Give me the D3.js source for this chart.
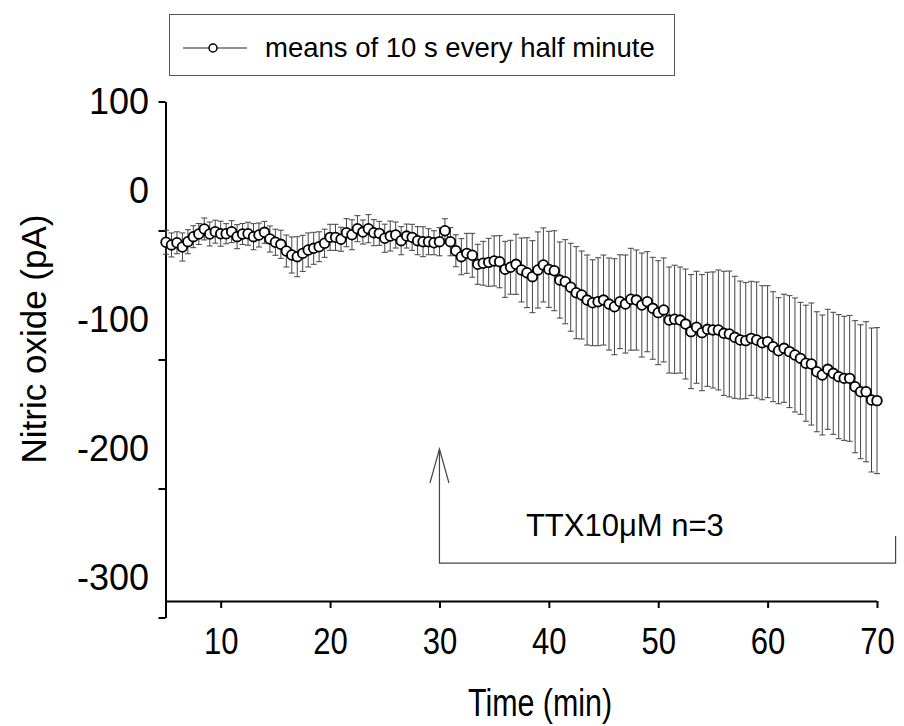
<!DOCTYPE html>
<html><head><meta charset="utf-8">
<script src="https://cdn.jsdelivr.net/npm/d3@7"></script>
<style>body{margin:0;background:#fff} svg{display:block}</style>
</head><body>
<svg id="c" width="904" height="726"></svg>
<script>
// ---- data ----
const startMin = 5, stepMin = 0.5;
const means = [
 -9.1,-11.2,-9.5,-12.8,-8.7,-4.8,-2.7,1.2,-2.7,-0.9,
 -2.5,-2.5,-0.9,-4.8,-2.7,-2.5,-4.8,-3.5,-1.4,-6.6,
 -9.1,-10.7,-15.9,-19.0,-20.3,-17.7,-15.1,-13.8,-12.6,-9.9,
 -5.3,-5.3,-6.8,-1.7,-3.3,1.4,-1.2,1.4,-1.7,-2.2,
 -6.0,-4.3,-3.5,-7.9,-4.3,-5.3,-7.9,-8.7,-8.7,-9.5,
 -8.7,-0.2,-8.7,-15.7,-20.3,-17.7,-19.2,-26.2,-25.4,-24.7,
 -23.6,-24.2,-30.1,-28.5,-26.2,-30.6,-32.7,-35.8,-30.6,-26.7,
 -30.1,-31.2,-38.4,-39.7,-44.0,-48.2,-50.0,-53.9,-56.0,-55.2,
 -53.9,-57.0,-59.1,-55.2,-57.0,-53.3,-53.9,-57.8,-55.2,-60.3,
 -63.7,-61.6,-69.4,-68.8,-69.4,-72.5,-78.4,-75.0,-79.2,-76.6,
 -77.1,-77.1,-79.7,-80.2,-82.8,-84.9,-85.4,-83.6,-84.9,-87.0,
 -86.2,-90.1,-93.2,-91.3,-93.9,-96.5,-99.1,-102.9,-103.5,-109.5,
 -112.0,-107.6,-110.7,-113.3,-114.6,-114.6,-121.1,-125.0,-125.0,-131.4,
 -131.9
];
const sems = [
 9.3,9.3,8.5,10.9,9.3,
 8.5,8.1,8.5,9.3,8.9,9.7,7.8,8.5,9.3,8.1,8.9,10.1,9.3,8.5,10.1,
 10.1,10.9,12.4,14.0,15.5,14.0,13.2,12.4,11.6,10.9,10.1,
 10.1,9.3,10.9,11.6,10.1,9.3,10.9,10.1,9.3,10.9,11.6,10.1,10.9,9.3,10.1,10.9,11.6,10.1,9.3,10.9,
 9.3,10.9,12.4,14.0,15.5,17.0,15.5,17.0,18.6,19.4,
 20.2,21.7,20.9,23.3,24.8,27.1,27.9,29.5,28.7,29.5,
 31.0,29.5,32.6,34.1,35.7,34.1,34.9,33.3,34.1,34.9,
 35.7,37.2,36.4,38.0,39.5,38.8,40.3,38.8,39.5,40.3,
 40.3,41.1,41.9,41.1,42.6,44.2,43.4,45.0,44.2,45.0,
 46.5,48.1,48.8,47.3,45.7,45.0,44.2,45.0,44.2,43.4,
 42.6,41.1,41.9,43.4,44.2,43.4,45.0,47.3,46.5,46.5,
 46.5,47.3,48.1,48.1,48.8,51.2,51.9,54.3,55.8,56.6
];
const xTicks = [10,20,30,40,50,60,70];
const yTicks = [100,0,-100,-200,-300];
const legendLabel = "means of 10 s every half minute";
const xTitle = "Time (min)";
const yTitle = "Nitric oxide (pA)";
const annoText = "TTX10μM n=3";
const annoStart = 30, annoEnd = 71.7, annoTextAt = 37.9;
const annoTip = -169.4, annoBase = -257.8, annoRightTop = -236.8;

// ---- build ----
const data = means.map((m,i)=>({t:startMin+i*stepMin, m, e:sems[i]}));
const svg = d3.select("#c");
const x = d3.scaleLinear().domain([5,70]).range([166,877]);
const y = d3.scaleLinear().domain([100,-300]).range([101.5,617.5]);
const axisY0 = 601;
const F = "'Liberation Sans', Arial, sans-serif";

// y axis
const gy = svg.append("g").attr("transform","translate(165.5,0)")
  .call(d3.axisLeft(y).tickValues(yTicks).tickSize(7).tickSizeOuter(0).tickFormat(""));
gy.selectAll("path,line").attr("stroke","#000").attr("stroke-width",2);
svg.append("g").selectAll("text").data(yTicks).join("text")
  .attr("x",149).attr("y",d=>y(d)+(d===100?0:-40))
  .attr("dy","0.36em").attr("text-anchor","end")
  .attr("font-family",F).attr("font-size",36).text(d=>d);

// x axis
const gx = svg.append("g").attr("transform",`translate(0,${axisY0})`)
  .call(d3.axisBottom(x).tickValues(xTicks).tickSize(7).tickSizeOuter(0));
gx.select(".domain").attr("d",`M165,0.5H${x(70)}`);
gx.selectAll("path,line").attr("stroke","#000").attr("stroke-width",2);
gx.selectAll("text").attr("y",40).attr("dy","0.36em")
  .attr("transform","scale(0.84,1)")
  .attr("font-family",F).attr("font-size",37).attr("fill","#000");

// titles
svg.append("text").attr("transform","translate(46,339) rotate(-90)")
  .attr("text-anchor","middle").attr("font-family",F).attr("font-size",35).text(yTitle);
svg.append("text").attr("transform","translate(540,716) scale(0.8,1)").attr("text-anchor","middle")
  .attr("font-family",F).attr("font-size",38).text(xTitle);

// error bars
const eb = svg.append("g").attr("stroke","#444").attr("stroke-width",1);
eb.selectAll("line.v").data(data).join("line").attr("class","v")
  .attr("x1",d=>x(d.t)).attr("x2",d=>x(d.t)).attr("y1",d=>y(d.m+d.e)).attr("y2",d=>y(d.m-d.e));
eb.selectAll("line.t").data(data).join("line").attr("class","t")
  .attr("x1",d=>x(d.t)-3).attr("x2",d=>x(d.t)+3).attr("y1",d=>y(d.m+d.e)).attr("y2",d=>y(d.m+d.e));
eb.selectAll("line.b").data(data).join("line").attr("class","b")
  .attr("x1",d=>x(d.t)-3).attr("x2",d=>x(d.t)+3).attr("y1",d=>y(d.m-d.e)).attr("y2",d=>y(d.m-d.e));

// line + points
svg.append("path").datum(data).attr("fill","none").attr("stroke","#000").attr("stroke-width",1)
  .attr("d",d3.line().x(d=>x(d.t)).y(d=>y(d.m)));
svg.append("g").selectAll("circle").data(data).join("circle")
  .attr("cx",d=>x(d.t)).attr("cy",d=>y(d.m)).attr("r",4.8)
  .attr("fill","#fff").attr("stroke","#000").attr("stroke-width",1.8);

// annotation
const ax = x(annoStart), bx = x(annoEnd);
const ag = svg.append("g").attr("stroke","#444").attr("stroke-width",1.2).attr("fill","none");
ag.append("path").attr("d",`M${ax},${y(annoTip)}V${y(annoBase)}H${bx}V${y(annoRightTop)}`);
ag.append("path").attr("d",`M${ax-9.5},${y(annoTip)+34}L${ax},${y(annoTip)}L${ax+9.5},${y(annoTip)+34}`);
svg.append("text").attr("x",x(annoTextAt)).attr("y",y(annoRightTop))
  .attr("font-family",F).attr("font-size",31).text(annoText);

// legend
const lg = svg.append("g");
lg.append("rect").attr("x",169.5).attr("y",14.5).attr("width",505).attr("height",61)
  .attr("fill","none").attr("stroke","#555").attr("stroke-width",1);
lg.append("line").attr("x1",183).attr("x2",247).attr("y1",48).attr("y2",48).attr("stroke","#222").attr("stroke-width",1.2);
lg.append("circle").attr("cx",213).attr("cy",48).attr("r",4).attr("fill","#fff").attr("stroke","#000").attr("stroke-width",1.5);
lg.append("text").attr("x",265).attr("y",57).attr("font-family",F).attr("font-size",27.5).text(legendLabel);
</script>
</body></html>
